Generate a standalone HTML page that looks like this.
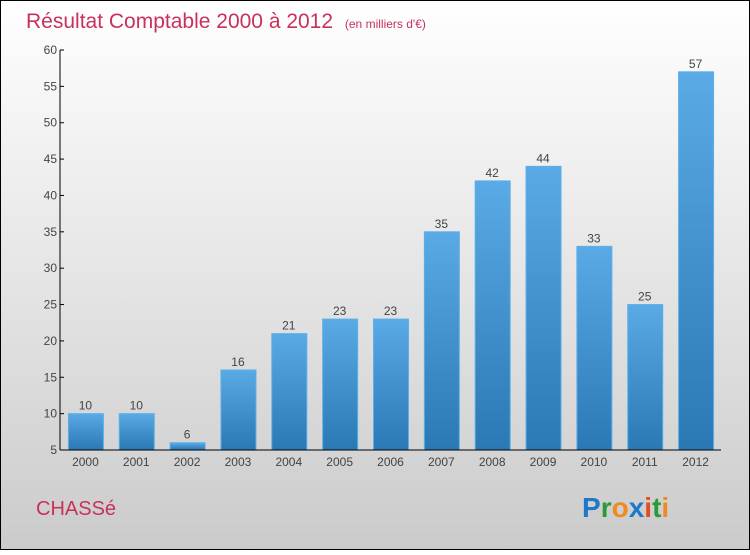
<!DOCTYPE html>
<html><head><meta charset="utf-8"><style>
body{margin:0;width:750px;height:550px;overflow:hidden;font-family:"Liberation Sans",sans-serif}
</style></head><body>
<svg width="750" height="550" xmlns="http://www.w3.org/2000/svg">
<defs>
<linearGradient id="bg" x1="0" y1="0" x2="0" y2="1"><stop offset="0" stop-color="#ffffff"/><stop offset="1" stop-color="#cbcbcb"/></linearGradient>
<linearGradient id="bar" x1="0" y1="0" x2="0" y2="1"><stop offset="0" stop-color="#5aaae6"/><stop offset="1" stop-color="#2a78b4"/></linearGradient>
</defs>
<rect x="0.5" y="0.5" width="749" height="549" fill="url(#bg)" stroke="#000"/>
<text x="26" y="28" font-size="21" fill="#c8325a">Résultat Comptable 2000 à 2012 <tspan font-size="12" dx="6">(en milliers d'€)</tspan></text>
<g id="plot"></g>
<text x="36" y="515" font-size="20" fill="#c8325a">CHASSé</text>
<text x="582" y="517" font-size="28" font-weight="bold"><tspan fill="#1e78c8">P</tspan><tspan fill="#2a9a3a">r</tspan><tspan fill="#f08a1e">o</tspan><tspan fill="#1e78c8">x</tspan><tspan fill="#e0501e">i</tspan><tspan fill="#2a9a3a">t</tspan><tspan fill="#f08a1e">i</tspan></text>
</svg>
<script>
const categories=["2000","2001","2002","2003","2004","2005","2006","2007","2008","2009","2010","2011","2012"];
const values=[10,10,6,16,21,23,23,35,42,44,33,25,57];
const yTicks=[5,10,15,20,25,30,35,40,45,50,55,60];
const NS="http://www.w3.org/2000/svg";
const g=document.getElementById('plot');
const x0=60,x1=721,yTop=50,yBot=450,vMin=5,vMax=60;
const y=v=>yBot-(v-vMin)*(yBot-yTop)/(vMax-vMin);
const step=(x1-x0)/categories.length;
const xc=i=>x0+step*(i+0.5);
function mk(t,a,txt){const e=document.createElementNS(NS,t);for(const k in a)e.setAttribute(k,a[k]);if(txt!==undefined)e.textContent=txt;g.appendChild(e);return e;}
values.forEach((v,i)=>{
 const r=mk('rect',{x:xc(i)-17,y:y(v),width:35,height:yBot-y(v),fill:'url(#bar)',stroke:'#5ab0ea','stroke-width':1});
 
 
 const t=mk('text',{x:xc(i),y:y(v)-4,'font-size':12,fill:'#444','text-anchor':'middle'},String(v));
 
 
 const c=mk('text',{x:xc(i),y:466,'font-size':12,fill:'#444','text-anchor':'middle'},categories[i]);
 
 
});
yTicks.forEach(v=>{
 const l=mk('line',{x1:x0,x2:x0+4,y1:y(v),y2:y(v),stroke:'#000'});
 
 
 const t=mk('text',{x:x0-3,y:y(v)+4,'font-size':12,fill:'#444','text-anchor':'end'},String(v));
 
 
});
const ya=mk('line',{x1:x0,x2:x0,y1:yTop,y2:yBot,stroke:'#000'});


const xa=mk('line',{x1:x0,x2:x1,y1:yBot,y2:yBot,stroke:'#000'});


</script>
</body></html>
